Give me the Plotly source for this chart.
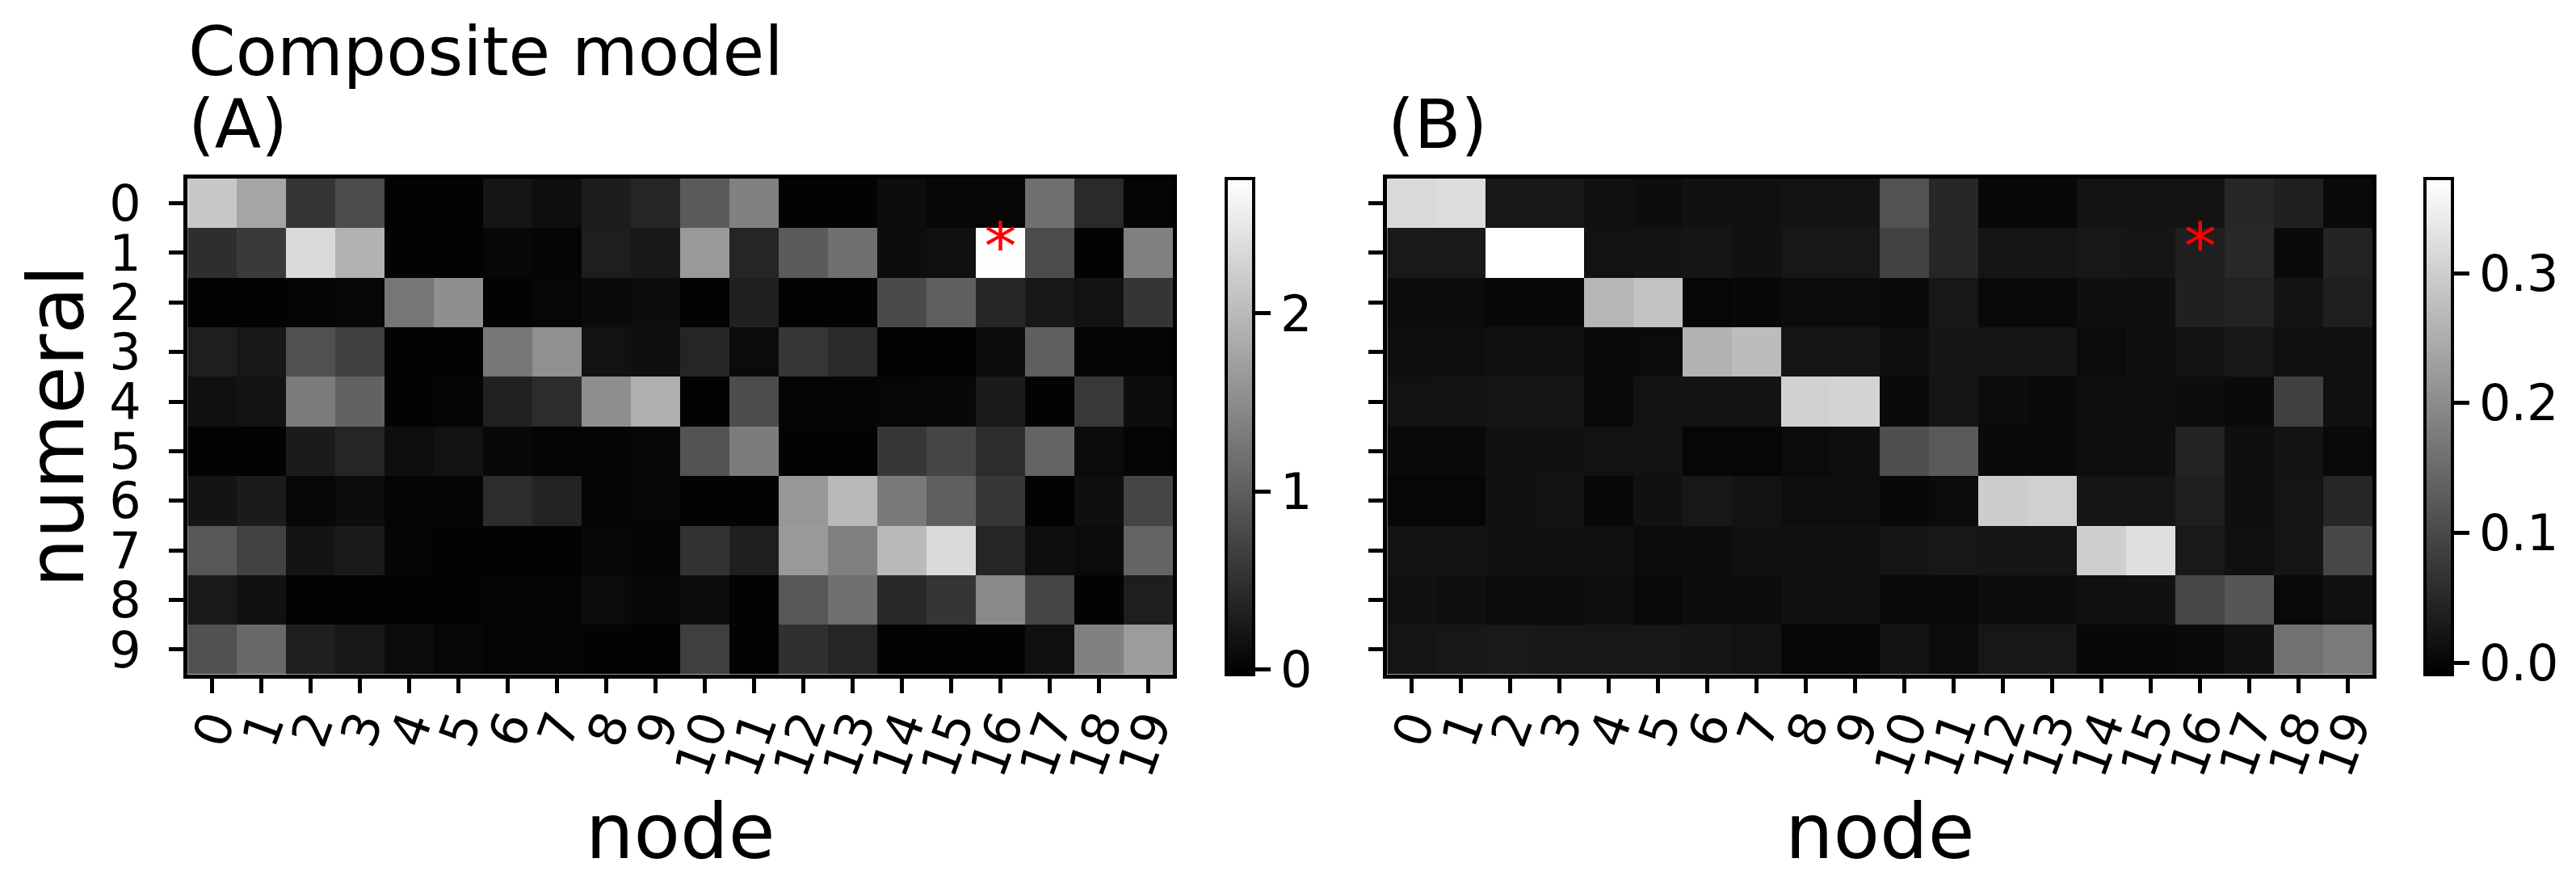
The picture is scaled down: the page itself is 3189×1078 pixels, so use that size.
"""Composite model: numeral x node heatmaps (A) and (B)"""

import plotly.graph_objects as go

nodes = list(range(20))
numerals = list(range(10))
node_labels = [str(n) for n in nodes]
numeral_labels = [str(n) for n in numerals]

# panel (A) values, one list per numeral
composite_a = [
    [2.16, 1.77, 0.55, 0.80, 0.00, 0.00, 0.20, 0.12, 0.29, 0.37, 0.97, 1.38, 0.00, 0.00, 0.11, 0.05, 0.04, 1.19, 0.43, 0.02],
    [0.47, 0.60, 2.35, 1.92, 0.00, 0.00, 0.05, 0.02, 0.30, 0.23, 1.64, 0.37, 0.97, 1.19, 0.11, 0.15, 2.75, 0.80, 0.00, 1.38],
    [0.00, 0.00, 0.02, 0.04, 1.26, 1.54, 0.00, 0.04, 0.08, 0.11, 0.00, 0.32, 0.00, 0.00, 0.78, 1.01, 0.39, 0.22, 0.17, 0.55],
    [0.30, 0.22, 0.84, 0.67, 0.00, 0.00, 1.27, 1.55, 0.17, 0.13, 0.38, 0.09, 0.56, 0.43, 0.00, 0.00, 0.11, 1.01, 0.03, 0.03],
    [0.14, 0.18, 1.32, 1.04, 0.00, 0.02, 0.33, 0.45, 1.53, 1.88, 0.00, 0.80, 0.02, 0.02, 0.04, 0.06, 0.25, 0.00, 0.58, 0.11],
    [0.00, 0.00, 0.26, 0.37, 0.12, 0.17, 0.06, 0.01, 0.03, 0.05, 0.88, 1.33, 0.00, 0.00, 0.57, 0.73, 0.45, 1.06, 0.09, 0.03],
    [0.19, 0.26, 0.05, 0.10, 0.01, 0.03, 0.45, 0.35, 0.02, 0.04, 0.00, 0.00, 1.62, 1.98, 1.30, 1.01, 0.57, 0.00, 0.13, 0.73],
    [0.92, 0.69, 0.19, 0.25, 0.02, 0.00, 0.00, 0.00, 0.05, 0.03, 0.52, 0.31, 1.66, 1.37, 2.01, 2.35, 0.37, 0.12, 0.09, 1.06],
    [0.25, 0.16, 0.00, 0.00, 0.00, 0.00, 0.01, 0.01, 0.09, 0.05, 0.11, 0.00, 0.92, 1.19, 0.41, 0.55, 1.47, 0.71, 0.00, 0.30],
    [0.86, 1.12, 0.31, 0.22, 0.10, 0.05, 0.01, 0.01, 0.00, 0.00, 0.66, 0.00, 0.50, 0.37, 0.00, 0.00, 0.00, 0.14, 1.38, 1.68],
]

# panel (B) values
composite_b = [
    [0.316, 0.320, 0.026, 0.026, 0.016, 0.010, 0.016, 0.016, 0.020, 0.020, 0.114, 0.050, 0.003, 0.003, 0.020, 0.020, 0.020, 0.050, 0.039, 0.004],
    [0.029, 0.028, 0.373, 0.373, 0.018, 0.019, 0.023, 0.016, 0.026, 0.026, 0.091, 0.048, 0.022, 0.022, 0.025, 0.023, 0.038, 0.051, 0.006, 0.044],
    [0.007, 0.007, 0.003, 0.003, 0.263, 0.281, 0.000, 0.003, 0.009, 0.009, 0.006, 0.025, 0.004, 0.004, 0.013, 0.013, 0.039, 0.044, 0.019, 0.038],
    [0.012, 0.012, 0.016, 0.016, 0.004, 0.007, 0.257, 0.272, 0.022, 0.022, 0.013, 0.022, 0.022, 0.022, 0.007, 0.013, 0.019, 0.025, 0.015, 0.015],
    [0.018, 0.020, 0.022, 0.022, 0.006, 0.020, 0.020, 0.020, 0.304, 0.309, 0.006, 0.023, 0.009, 0.006, 0.012, 0.012, 0.010, 0.006, 0.089, 0.015],
    [0.006, 0.006, 0.016, 0.016, 0.018, 0.018, 0.000, 0.000, 0.007, 0.012, 0.110, 0.126, 0.006, 0.006, 0.012, 0.012, 0.044, 0.013, 0.020, 0.004],
    [0.000, 0.000, 0.016, 0.019, 0.003, 0.016, 0.025, 0.020, 0.012, 0.012, 0.003, 0.007, 0.298, 0.303, 0.022, 0.022, 0.038, 0.013, 0.022, 0.048],
    [0.020, 0.019, 0.016, 0.016, 0.015, 0.007, 0.010, 0.016, 0.016, 0.016, 0.023, 0.026, 0.022, 0.023, 0.301, 0.325, 0.029, 0.015, 0.022, 0.097],
    [0.016, 0.013, 0.007, 0.007, 0.013, 0.004, 0.010, 0.009, 0.016, 0.016, 0.004, 0.004, 0.010, 0.010, 0.015, 0.016, 0.098, 0.120, 0.004, 0.015],
    [0.022, 0.025, 0.028, 0.026, 0.026, 0.026, 0.022, 0.020, 0.000, 0.000, 0.020, 0.009, 0.025, 0.025, 0.003, 0.003, 0.006, 0.016, 0.161, 0.176],
]

# marked cell (node, numeral)
star_node = [16]
star_numeral = [1]

cbar_ticks_a = [0, 1, 2]
cbar_ticks_b = [0.0, 0.1, 0.2, 0.3]

W, H = 3189, 1078
FONT = "DejaVu Sans"
GRAY = [[0, "#000000"], [1, "#ffffff"]]

# plot areas in pixels
A_LEFT, A_RIGHT = 217.6, 1445.6
B_LEFT, B_RIGHT = 1712.5, 2940.5
TOP, BOTTOM = 210, 830


def px_x(v):
    return v / W


def px_y(v):
    return 1 - v / H


def _colorbar(x_px, tickvals, fmt):
    return dict(
        x=px_x(x_px),
        xanchor="left",
        xpad=0,
        ypad=0,
        y=px_y((TOP + BOTTOM) / 2),
        yanchor="middle",
        len=(BOTTOM - TOP) / H,
        lenmode="fraction",
        thickness=34,
        outlinewidth=4,
        outlinecolor="black",
        tickvals=tickvals,
        tickformat=fmt,
        ticks="outside",
        ticklen=19,
        tickwidth=4.5,
        tickcolor="black",
        tickfont=dict(family=FONT, size=62, color="black"),
    )


fig = go.Figure()

fig.add_trace(
    go.Heatmap(
        x=nodes,
        y=numerals,
        z=composite_a,
        colorscale=GRAY,
        zmin=-0.03,
        zmax=2.76,
        colorbar=_colorbar(1512, cbar_ticks_a, "d"),
        xaxis="x",
        yaxis="y",
    )
)
fig.add_trace(
    go.Heatmap(
        x=nodes,
        y=numerals,
        z=composite_b,
        colorscale=GRAY,
        zmin=-0.009,
        zmax=0.373,
        colorbar=_colorbar(3006, cbar_ticks_b, ".1f"),
        xaxis="x2",
        yaxis="y2",
    )
)

for xa, ya in (("x", "y"), ("x2", "y2")):
    fig.add_trace(
        go.Scatter(
            x=star_node,
            y=star_numeral,
            mode="text",
            text=["*"],
            textposition="middle center",
            textfont=dict(family=FONT, size=80, color="#ff0000"),
            xaxis=xa,
            yaxis=ya,
            showlegend=False,
            hoverinfo="skip",
        )
    )

axis_common = dict(
    showgrid=False,
    zeroline=False,
    showline=True,
    linewidth=5,
    linecolor="black",
    mirror=True,
    ticks="outside",
    ticklen=18,
    tickwidth=4.5,
    tickcolor="black",
    tickfont=dict(family=FONT, size=62, color="black"),
)

x_common = dict(
    axis_common,
    range=[-0.5, 19.5],
    tickvals=nodes,
    ticktext=node_labels,
    tickangle=-70,
    ticklabelstandoff=-20,
)

fig.update_layout(
    width=W,
    height=H,
    margin=dict(l=0, r=0, t=0, b=0),
    paper_bgcolor="white",
    plot_bgcolor="white",
    font=dict(family=FONT, color="black"),
    showlegend=False,
    xaxis=dict(x_common, domain=[px_x(A_LEFT), px_x(A_RIGHT)], anchor="y"),
    yaxis=dict(
        axis_common,
        domain=[px_y(BOTTOM), px_y(TOP)],
        range=[9.5, -0.5],
        tickvals=numerals,
        ticktext=numeral_labels,
        ticklabelstandoff=22,
        anchor="x",
    ),
    xaxis2=dict(x_common, domain=[px_x(B_LEFT), px_x(B_RIGHT)], anchor="y2"),
    yaxis2=dict(
        axis_common,
        domain=[px_y(BOTTOM), px_y(TOP)],
        range=[9.5, -0.5],
        tickvals=numerals,
        showticklabels=False,
        anchor="x2",
    ),
    annotations=[
        dict(text="Composite model", x=px_x(216), y=px_y(52), xref="paper", yref="paper",
             xanchor="left", yanchor="middle", showarrow=False,
             font=dict(family=FONT, size=84, color="black")),
        dict(text="(A)", x=px_x(216), y=px_y(142), xref="paper", yref="paper",
             xanchor="left", yanchor="middle", showarrow=False,
             font=dict(family=FONT, size=84, color="black")),
        dict(text="(B)", x=px_x(1711), y=px_y(142), xref="paper", yref="paper",
             xanchor="left", yanchor="middle", showarrow=False,
             font=dict(family=FONT, size=84, color="black")),
        dict(text="node", x=px_x((A_LEFT + A_RIGHT) / 2), y=px_y(1027), xref="paper", yref="paper",
             xanchor="center", yanchor="middle", showarrow=False,
             font=dict(family=FONT, size=94, color="black")),
        dict(text="node", x=px_x((B_LEFT + B_RIGHT) / 2), y=px_y(1027), xref="paper", yref="paper",
             xanchor="center", yanchor="middle", showarrow=False,
             font=dict(family=FONT, size=94, color="black")),
        dict(text="numeral", x=px_x(54), y=px_y((TOP + BOTTOM) / 2), xref="paper", yref="paper",
             xanchor="center", yanchor="middle", textangle=-90, showarrow=False,
             font=dict(family=FONT, size=96, color="black")),
    ],
)

fig.write_html("out.html")
